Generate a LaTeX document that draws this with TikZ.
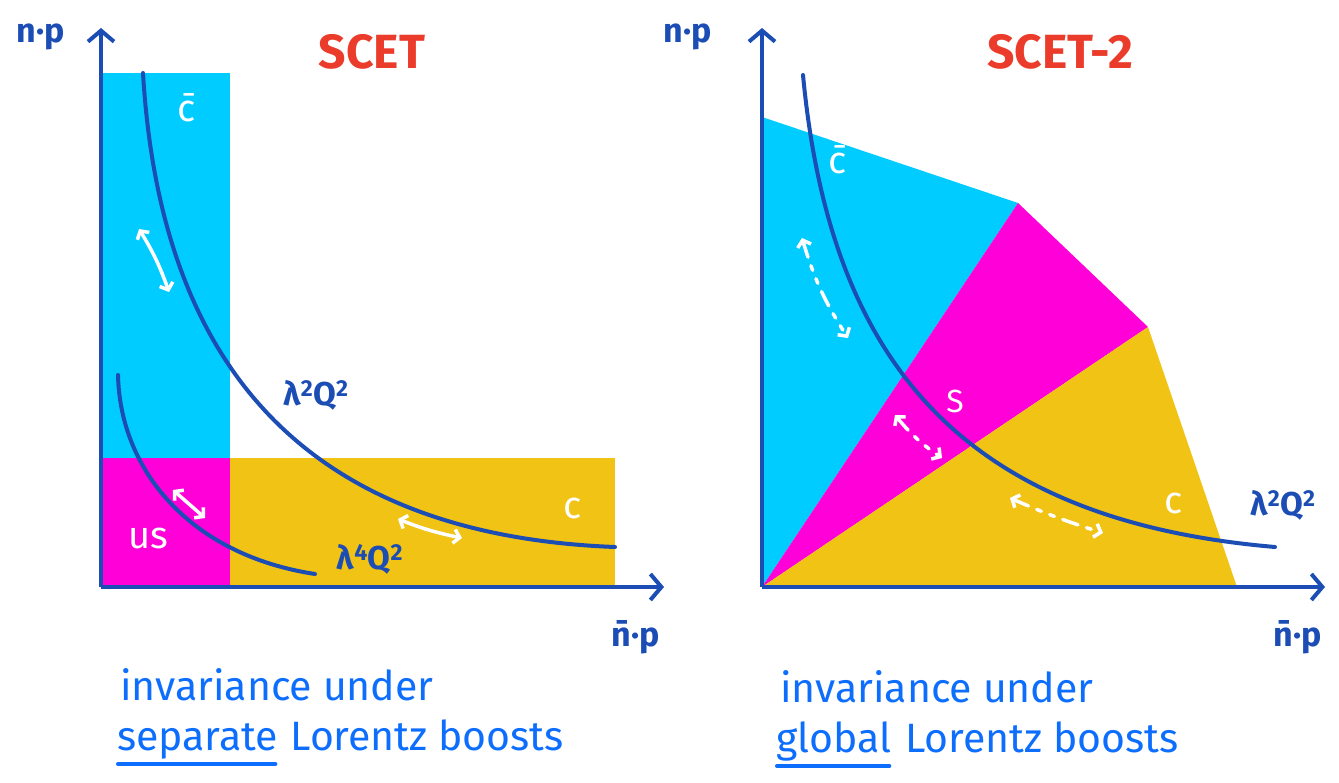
\documentclass[tikz,border=0pt]{standalone}
\usepackage{fontspec}
\setmainfont{Fira Sans}
\usetikzlibrary{arrows.meta,positioning,calc}

\definecolor{axisblue}{HTML}{1B4DB5}
\definecolor{cbarcol}{HTML}{00CCFF}
\definecolor{softcol}{HTML}{FF00D8}
\definecolor{collcol}{HTML}{F0C314}
\definecolor{titlered}{HTML}{EB3B2B}
\definecolor{noteblue}{HTML}{0D6EFD}

\tikzset{
  axisarrow/.style={line width=4pt, axisblue, -{Straight Barb[length=11pt,width=26pt,line width=4pt]}},
  hyper/.style={line width=4pt, axisblue, line cap=round},
  boost/.style={line width=3.5pt, white, line cap=round,
    {Straight Barb[length=6pt,width=14pt,line width=3.5pt]}-{Straight Barb[length=6pt,width=14pt,line width=3.5pt]}},
  dboost/.style={boost, dash pattern=on 16pt off 9pt on 5pt off 9pt on 5pt off 9pt},
  region/.style={white, font=\fontsize{38}{38}\selectfont},
  axlabel/.style={axisblue, font=\bfseries\fontsize{34}{34}\selectfont},
  scalelabel/.style={axisblue, font=\bfseries\fontsize{33}{33}\selectfont},
  paneltitle/.style={titlered, font=\bfseries\fontsize{48}{48}\selectfont},
  note/.style={noteblue, font=\fontsize{41}{41}\selectfont, inner sep=0pt},
  underl/.style={noteblue, line width=4pt, line cap=round}
}

\begin{document}
\begin{tikzpicture}[x=1pt, y=-1pt]
\useasboundingbox (0,0) rectangle (1339,783);

% SCET: separate collinear, anti-collinear and ultrasoft boxes
\begin{scope}
\fill[cbarcol] (101,73) rectangle (230,458);
\fill[softcol] (101,458) rectangle (230,587);
\fill[collcol] (230,458) rectangle (615,587);
\coordinate (O1) at (101,587);
\coordinate (Y1) at (101,28);
\coordinate (X1) at (664,587);
\draw[axisarrow] (O1) -- (Y1);
\draw[axisarrow] (O1) -- (X1);
\draw[hyper] (143,73) .. controls (160,360) and (300,535) .. (615,547);
\draw[hyper] (118,375) .. controls (120,470) and (190,555) .. (315,574);
\node[axlabel] (np1) at (41,37) {n·p};
\node[axlabel] (nbp1) at (636,637) {\={n}·p};
\node[paneltitle] (t1) at (372,52) {SCET};
\node[region] (cb1) at (187,108) {\={c}};
\node[region] (us1) at (148,538) {us};
\node[region] (c1) at (573,508) {c};
\node[scalelabel] (la1) at (316,395) {λ\textsuperscript{2}Q\textsuperscript{2}};
\node[scalelabel] (lb1) at (370,559) {λ\textsuperscript{4}Q\textsuperscript{2}};
\coordinate (a1) at (139,229);
\coordinate (a2) at (169,292);
\coordinate (a3) at (173,490);
\coordinate (a4) at (205,518);
\coordinate (a5) at (398,519);
\coordinate (a6) at (462,538);
\draw[boost] (a1) to[bend left=6] (a2);
\draw[boost] (a3) -- (a4);
\draw[boost] (a5) to[bend right=5] (a6);
\node[note, anchor=base west] (n1) at (120,700) {invariance under};
\node[note, anchor=base west] (w1) at (117,750) {separate};
\node[note, right=12pt of w1.base east, anchor=base west] (r1) {Lorentz boosts};
\draw[underl] ($(w1.base west)+(1,14)$) -- ($(w1.base east)+(-3,14)$);
\end{scope}

% SCET-2: wedges of one common boost
\begin{scope}
\coordinate (O2) at (762,587);
\fill[cbarcol] (O2) -- (762,117) -- (1018,203) -- cycle;
\fill[softcol] (O2) -- (1018,203) -- (1148,327) -- cycle;
\fill[collcol] (O2) -- (1148,327) -- (1237,587) -- cycle;
\coordinate (Y2) at (762,28);
\coordinate (X2) at (1325,587);
\draw[axisarrow] (O2) -- (Y2);
\draw[axisarrow] (O2) -- (X2);
\draw[hyper] (803,75) .. controls (830,360) and (960,520) .. (1275,547);
\node[axlabel] (np2) at (688,37) {n·p};
\node[axlabel] (nbp2) at (1298,637) {\={n}·p};
\node[paneltitle] (t2) at (1060,52) {SCET-2};
\node[region] (cb2) at (838,160) {\={c}};
\node[region, font=\fontsize{32}{32}\selectfont] (s2) at (955,401) {S};
\node[region] (c2) at (1174,503) {c};
\node[scalelabel] (la2) at (1283,505) {λ\textsuperscript{2}Q\textsuperscript{2}};
\coordinate (b1) at (802,238);
\coordinate (b2) at (848,338);
\coordinate (b3) at (895,415);
\coordinate (b4) at (942,458);
\coordinate (b5) at (1010,498);
\coordinate (b6) at (1103,533);
\draw[dboost] (b1) to[bend right=8] (b2);
\draw[dboost] (b3) to[bend right=8] (b4);
\draw[dboost] (b5) to[bend right=3] (b6);
\node[note, anchor=base west] (n2) at (780,702) {invariance under};
\node[note, anchor=base west] (w2) at (776,752) {global};
\node[note, right=14pt of w2.base east, anchor=base west] (r2) {Lorentz boosts};
\draw[underl] ($(w2.base west)+(1,14)$) -- ($(w2.base east)+(-2,14)$);
\end{scope}

\end{tikzpicture}
\end{document}
